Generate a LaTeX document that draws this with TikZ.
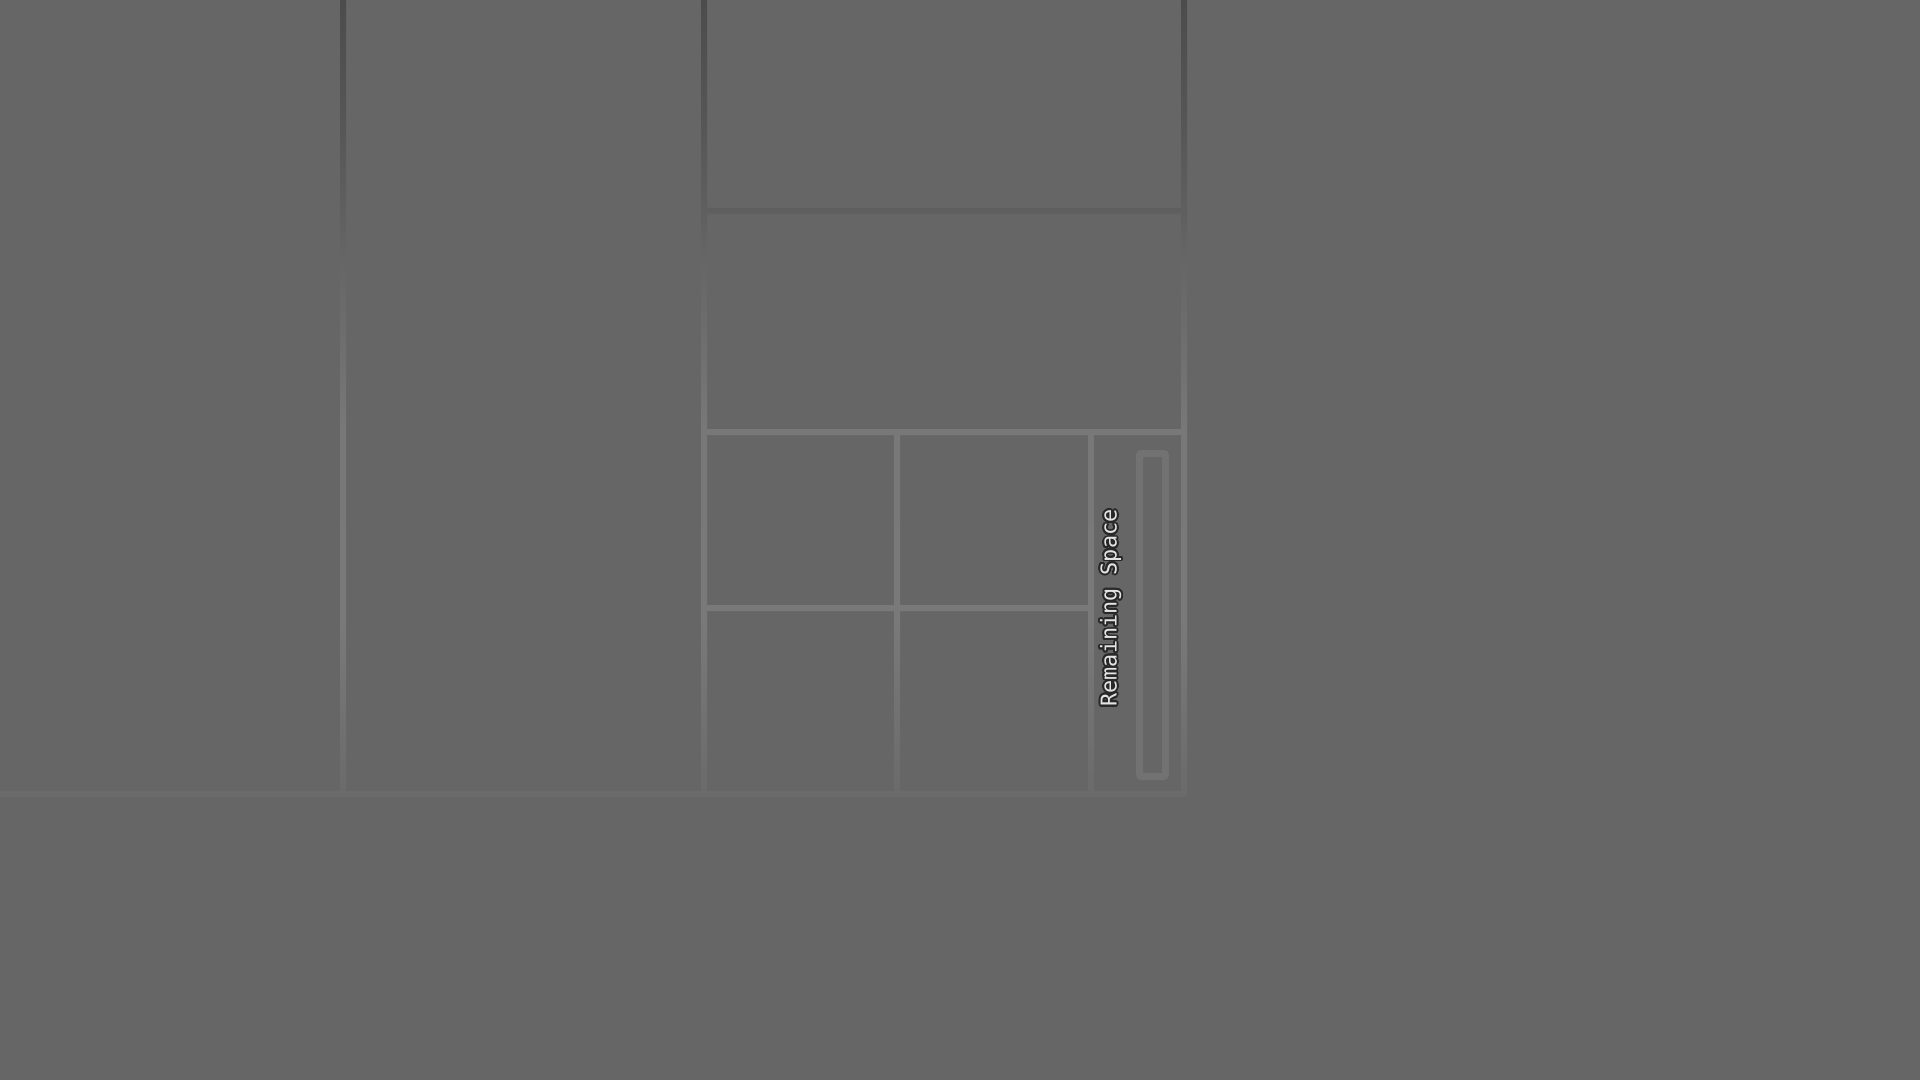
\documentclass[tikz,border=0pt]{standalone}
\usepackage{fontspec}
\newfontfamily\labelmono{DejaVu Sans Mono}
\usepackage{contour}
\contourlength{0.9pt}
\contournumber{24}
\definecolor{bg}{RGB}{102,102,102}
\definecolor{gA}{RGB}{106,106,106}
\definecolor{gB}{RGB}{113,113,113}
\definecolor{gC}{RGB}{121,121,121}
\definecolor{gD}{RGB}{120,120,120}
\definecolor{gE}{RGB}{110,110,110}
\definecolor{gF}{RGB}{102,102,102}
\definecolor{gG}{RGB}{94,94,94}
\definecolor{gH}{RGB}{84,84,84}
\definecolor{gI}{RGB}{76,76,76}
\definecolor{barcol}{RGB}{114,114,114}
\definecolor{txtfill}{RGB}{228,228,228}
\definecolor{txtline}{RGB}{40,40,40}
\pgfdeclareverticalshading{linegrad}{960pt}{color(0pt)=(gA); color(140pt)=(gA); color(180pt)=(gB); color(230pt)=(gC); color(325pt)=(gD); color(370pt)=(gE); color(410pt)=(gF); color(440pt)=(gG); color(490pt)=(gH); color(540pt)=(gI)}
\tikzset{
  gradbox/.style={inner sep=0pt, outer sep=0pt, anchor=south west},
  barframe/.style={fill=barcol, even odd rule},
  spacelabel/.style={rotate=90, inner sep=0pt, text=txtfill, font=\labelmono\fontsize{10.9}{13}\selectfont}
}
\begin{document}
\begin{tikzpicture}[x=0.5pt,y=-0.5pt]
\fill[bg] (0,0) rectangle (1920,1080);
\useasboundingbox (0,0) rectangle (1920,1080);
% grid lines (shaded by absolute height)
\begin{scope}
\clip (340,0) rectangle (346,797)
      (701,0) rectangle (707,797)
      (1181,0) rectangle (1187,797)
      (701,208) rectangle (1187,214)
      (701,429) rectangle (1187,435)
      (894,429) rectangle (900,797)
      (1088,429) rectangle (1094,797)
      (701,605) rectangle (1094,611)
      (0,791) rectangle (1187,797);
\node[gradbox] (grad) at (0,1080) {\pgfuseshading{linegrad}};
\end{scope}
% remaining-space bar
\fill[barframe] [rounded corners=2.5pt] (1136,450) -- (1169,450) -- (1169,780) -- (1136,780) -- cycle
      [sharp corners] (1143,457) -- (1162,457) -- (1162,773) -- (1143,773) -- cycle;
\node[spacelabel] (label) at (1111.5,608) {\contour{txtline}{Remaining Space}};
\end{tikzpicture}
\end{document}
